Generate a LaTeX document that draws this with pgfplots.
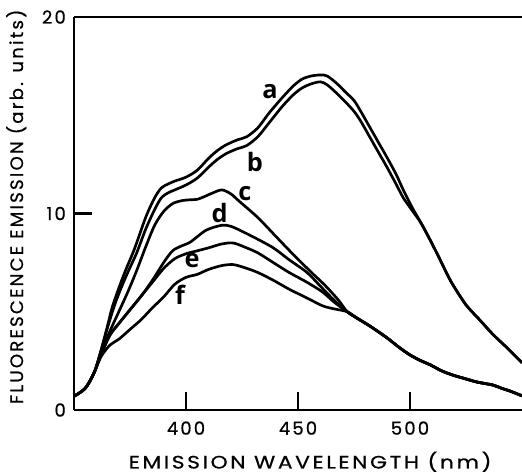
\documentclass[border=0pt]{standalone}
\usepackage{fontspec}
\usepackage{graphicx}
\setmainfont{Poppins}
\newfontfamily\labfont{Poppins}[LetterSpace=12, FakeBold=0.6]
\newfontfamily\lblfont{Open Sans}
\usepackage{pgfplots}
\pgfplotsset{compat=1.18}

\begin{document}
\begin{tikzpicture}
\begin{axis}[
    scale only axis,
    width=336pt, height=294.75pt,
    xmin=350, xmax=550,
    ymin=0, ymax=20,
    axis x line*=box,
    axis y line*=left,
    xtick pos=left, ytick pos=left,
    tick align=inside,
    major tick length=13.5pt,
    xtick={400,450,500},
    ytick={0,10,20},
    every axis/.append style={line width=1.6pt},
    every tick/.style={line width=1.6pt, black},
    xticklabels={400,450,500},
    yticklabels={0,10,20},
    ticklabel style={font=\labfont\fontsize{13.5}{16}\selectfont},
    xticklabel style={yshift=-4.5pt},
    yticklabel style={xshift=-2pt},
    xlabel={\scalebox{1.21}[1]{EMISSION WAVELENGTH (nm)}},
    ylabel={\scalebox{1.01}[1]{FLUORESCENCE EMISSION (arb. units)}},
    label style={font=\labfont\fontsize{13.5}{16}\selectfont},
    xlabel style={at={(axis description cs:0.527,-0.092)}, anchor=north},
    ylabel style={at={(axis description cs:-0.094,0.517)}, anchor=south},
    clip=true,
]
% a
\addplot[black, line width=2pt, smooth] coordinates {(350,0.7)(355,1.1)(359,1.9)(362,3.0)(365,4.3)(367,5.2)(370,6.2)(373,7.1)(377,8.2)(382,9.8)(386,10.8)(389,11.3)(392,11.5)(395,11.65)(400,11.85)(405,12.2)(410,12.8)(414,13.2)(418,13.5)(423,13.75)(427,13.9)(432,14.35)(437,15.1)(443,15.9)(448,16.5)(452,16.85)(456,17.0)(460,17.05)(463,17.0)(467,16.65)(471,16.2)(475,15.75)(478,15.2)(482,14.4)(486,13.6)(490,12.8)(494,11.95)(497,11.2)(501,10.3)(505,9.5)(509,8.65)(513,7.75)(516,7.05)(519,6.4)(525,5.35)(531,4.6)(537,3.85)(543,3.2)(550,2.4)};
% b
\addplot[black, line width=2pt, smooth] coordinates {(350,0.7)(355,1.1)(359,1.9)(362,3.0)(365,4.2)(368,5.3)(371,6.2)(374,7.0)(378,8.0)(382,9.2)(386,10.2)(389,10.8)(392,11.05)(395,11.2)(400,11.45)(405,11.8)(410,12.35)(414,12.75)(418,13.05)(423,13.3)(427,13.45)(432,13.9)(437,14.6)(443,15.45)(448,16.05)(452,16.4)(456,16.6)(460,16.7)(463,16.55)(467,16.15)(471,15.7)(475,15.2)(478,14.7)(482,13.9)(486,13.1)(490,12.3)(494,11.45)(497,10.8)(501,10.15)(505,9.5)(509,8.65)(513,7.75)(516,7.05)(519,6.4)(525,5.35)(531,4.6)(537,3.85)(543,3.2)(550,2.4)};
% c
\addplot[black, line width=2pt, smooth] coordinates {(350,0.7)(355,1.1)(359,1.9)(362,2.9)(366,4.0)(370,5.0)(374,6.0)(378,7.1)(382,8.3)(386,9.4)(390,10.1)(394,10.5)(398,10.65)(402,10.7)(405,10.72)(408,10.85)(412,11.05)(416,11.2)(420,11.0)(424,10.6)(432,9.8)(440,8.85)(448,7.9)(456,7.0)(462,6.35)(468,5.6)(472,5.0)(476,4.7)(481,4.35)(485,4.05)(490,3.65)(495,3.2)(500,2.8)(505,2.5)(509,2.3)(514,2.0)(519,1.78)(525,1.58)(530,1.42)(537,1.27)(541,1.1)(545,0.95)(550,0.72)};
% d
\addplot[black, line width=2pt, smooth] coordinates {(350,0.7)(355,1.1)(359,1.9)(362,2.8)(366,3.8)(370,4.4)(375,5.1)(380,5.8)(385,6.6)(390,7.5)(394,8.1)(398,8.35)(402,8.55)(409,9.15)(416,9.4)(420,9.35)(424,9.15)(431,8.75)(439,8.25)(446,7.65)(454,7.0)(460,6.3)(466,5.6)(472,5.0)(476,4.7)(481,4.35)(485,4.05)(490,3.65)(495,3.2)(500,2.8)(505,2.5)(509,2.3)(514,2.0)(519,1.78)(525,1.58)(530,1.42)(537,1.27)(541,1.1)(545,0.95)(550,0.72)};
% e
\addplot[black, line width=2pt, smooth] coordinates {(350,0.7)(355,1.1)(359,1.9)(362,2.8)(366,3.8)(370,4.4)(375,5.1)(380,5.8)(385,6.5)(390,7.2)(395,7.7)(400,7.95)(405,8.1)(410,8.25)(416,8.45)(421,8.5)(426,8.3)(432,8.0)(439,7.5)(446,7.0)(454,6.5)(461,6.0)(466,5.5)(472,5.0)(476,4.7)(481,4.35)(485,4.05)(490,3.65)(495,3.2)(500,2.8)(505,2.5)(509,2.3)(514,2.0)(519,1.78)(525,1.58)(530,1.42)(537,1.27)(541,1.1)(545,0.95)(550,0.72)};
% f
\addplot[black, line width=2pt, smooth] coordinates {(350,0.7)(355,1.1)(359,1.9)(362,2.7)(366,3.3)(370,3.6)(375,4.1)(380,4.6)(385,5.2)(390,5.75)(395,6.4)(400,6.75)(405,6.9)(410,7.15)(416,7.35)(421,7.4)(426,7.25)(432,7.0)(439,6.6)(446,6.15)(454,5.7)(461,5.3)(466,5.15)(472,5.0)(476,4.7)(481,4.35)(485,4.05)(490,3.65)(495,3.2)(500,2.8)(505,2.5)(509,2.3)(514,2.0)(519,1.78)(525,1.58)(530,1.42)(537,1.27)(541,1.1)(545,0.95)(550,0.72)};

\begin{scope}[every node/.style={font=\lblfont\bfseries\fontsize{19}{21}\selectfont}]
\node at (axis cs:437.5,16.2) {a};
\node at (axis cs:430.8,12.6) {b};
\node at (axis cs:426.3,11.0) {c};
\node at (axis cs:415,10.0) {d};
\node at (axis cs:402.7,7.6) {e};
\node at (axis cs:397.3,5.85) {f};
\end{scope}
\end{axis}
\pgfresetboundingbox
\path ([shift={(-55.5pt,-48pt)}]current axis.south west) rectangle ([shift={(0pt,12.75pt)}]current axis.north east);
\end{tikzpicture}
\end{document}
